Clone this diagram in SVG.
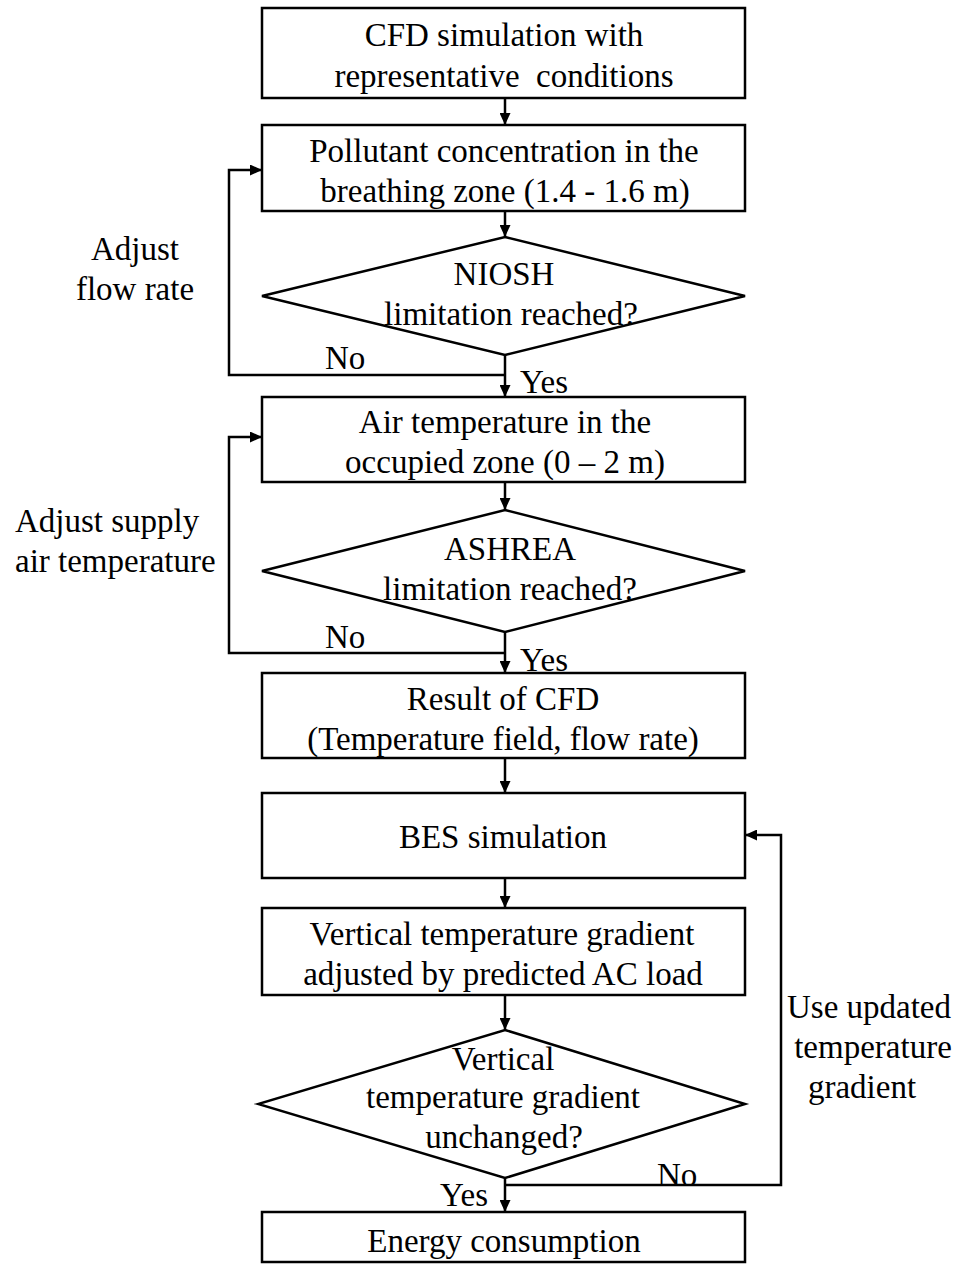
<svg xmlns="http://www.w3.org/2000/svg" width="955" height="1264" viewBox="0 0 955 1264">
<style>
.n{fill:#fff;stroke:#000;stroke-width:2.5}
.c{fill:none;stroke:#000;stroke-width:2.5}
text{font-family:"Liberation Serif","Times New Roman",serif;font-size:33px;fill:#000}
.m{text-anchor:middle}
</style>
<defs>
<marker id="a" markerWidth="12" markerHeight="11" refX="11" refY="5.5" orient="auto" markerUnits="userSpaceOnUse">
<path d="M0,0 L12,5.5 L0,11 z" fill="#000"/>
</marker>
</defs>
<rect width="955" height="1264" fill="#fff"/>
<g id="connectors">
<path class="c" d="M505,98 V124" marker-end="url(#a)"/>
<path class="c" d="M505,211 V236" marker-end="url(#a)"/>
<path class="c" d="M505,355 V396" marker-end="url(#a)"/>
<path class="c" d="M505,375 H229 V170 H261" marker-end="url(#a)"/>
<path class="c" d="M505,482 V509" marker-end="url(#a)"/>
<path class="c" d="M505,632 V672" marker-end="url(#a)"/>
<path class="c" d="M505,653 H229 V437 H261" marker-end="url(#a)"/>
<path class="c" d="M505,758 V792" marker-end="url(#a)"/>
<path class="c" d="M505,878 V907" marker-end="url(#a)"/>
<path class="c" d="M505,995 V1029" marker-end="url(#a)"/>
<path class="c" d="M505,1178 V1211" marker-end="url(#a)"/>
<path class="c" d="M505,1185 H781 V835 H746" marker-end="url(#a)"/>
<text x="325" y="369">No</text>
<text x="520" y="393">Yes</text>
<text x="325" y="648">No</text>
<text x="520" y="671">Yes</text>
<text x="657" y="1186">No</text>
<text x="440" y="1206">Yes</text>
<text x="135" y="260" class="m">Adjust</text>
<text x="135" y="300" class="m">flow rate</text>
<text x="15" y="532">Adjust supply</text>
<text x="15" y="572">air temperature</text>
<text x="869" y="1018" class="m">Use updated</text>
<text x="873" y="1058" class="m">temperature</text>
<text x="862" y="1098" class="m">gradient</text>
</g>
<g id="n1"><rect class="n" x="262" y="8" width="483" height="90"/>
<text x="504" y="46" class="m">CFD simulation with</text>
<text x="504" y="87" class="m" xml:space="preserve">representative  conditions</text></g>
<g id="n2"><rect class="n" x="262" y="125" width="483" height="86"/>
<text x="504" y="162" class="m">Pollutant concentration in the</text>
<text x="505" y="202" class="m">breathing zone (1.4 - 1.6 m)</text></g>
<g id="d1"><polygon class="n" points="505,237 745,296 505,355 262,296"/>
<text x="504" y="285" class="m">NIOSH</text>
<text x="511" y="325" class="m">limitation reached?</text></g>
<g id="n3"><rect class="n" x="262" y="397" width="483" height="85"/>
<text x="505" y="433" class="m">Air temperature in the</text>
<text x="505" y="473" class="m">occupied zone (0 – 2 m)</text></g>
<g id="d2"><polygon class="n" points="505,510 745,571 505,632 262,571"/>
<text x="510" y="560" class="m">ASHREA</text>
<text x="510" y="600" class="m">limitation reached?</text></g>
<g id="n4"><rect class="n" x="262" y="673" width="483" height="85"/>
<text x="503" y="710" class="m">Result of CFD</text>
<text x="503" y="750" class="m">(Temperature field, flow rate)</text></g>
<g id="n5"><rect class="n" x="262" y="793" width="483" height="85"/>
<text x="503" y="848" class="m">BES simulation</text></g>
<g id="n6"><rect class="n" x="262" y="908" width="483" height="87"/>
<text x="502" y="945" class="m">Vertical temperature gradient</text>
<text x="503" y="985" class="m">adjusted by predicted AC load</text></g>
<g id="d3"><polygon class="n" points="505,1030 745,1104 505,1178 258,1104"/>
<text x="503" y="1070" class="m">Vertical</text>
<text x="503" y="1108" class="m">temperature gradient</text>
<text x="504" y="1148" class="m">unchanged?</text></g>
<g id="n7"><rect class="n" x="262" y="1212" width="483" height="50"/>
<text x="504" y="1252" class="m">Energy consumption</text></g>
</svg>
